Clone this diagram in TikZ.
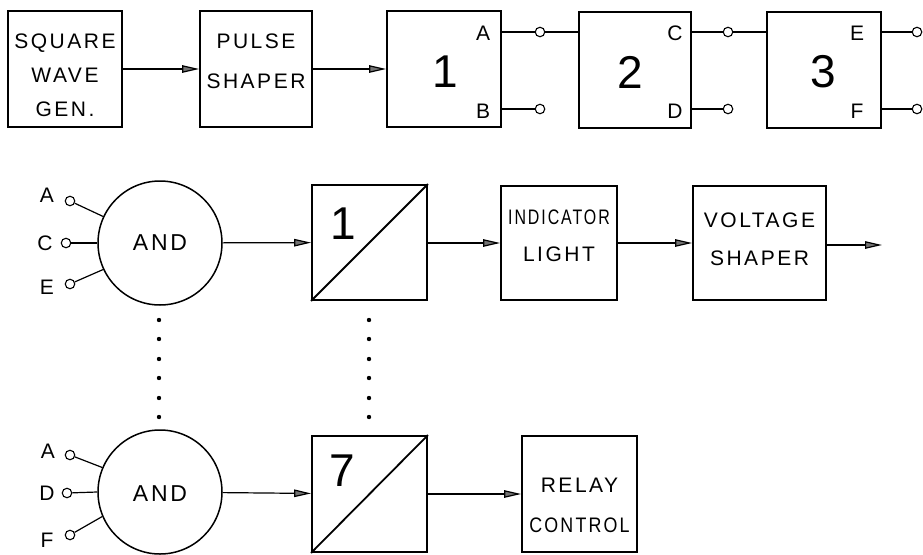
\documentclass[tikz,border=0pt]{standalone}
\usepackage{fontspec}
\setmainfont{Liberation Sans}
\newfontfamily\stencil{Liberation Sans}[LetterSpace=12]
\usetikzlibrary{arrows.meta, positioning}

\begin{document}
\begin{tikzpicture}[x=1pt, y=-1pt,
    every node/.style={font=\stencil\fontsize{21}{38}\selectfont, align=center},
    blk/.style={draw, line width=1.8pt, minimum width=114pt, minimum height=116pt, inner sep=0pt},
    gate/.style={draw, circle, line width=1.5pt, minimum size=124pt, inner sep=0pt},
    term/.style={draw, circle, line width=1.1pt, minimum size=9.5pt, inner sep=0pt, fill=white},
    wire/.style={line width=1.2pt},
    feed/.style={wire, -{Triangle[length=17pt, width=7.5pt, fill=black!55]}},
    digit/.style={font=\fontsize{46}{46}\selectfont}]
    \useasboundingbox (0,0) rectangle (923,554);

    % counter chain
    \node[blk] (sqw) at (65,69) {};
    \node (sqwtxt) at (65,75) {SQUARE\\[-4pt]WAVE\\[-4pt]GEN.};
    \node[blk, minimum width=112pt] (pulse) at (256,69) {};
    \node (pulsetxt) at (256,61) {PULSE\\[2pt]SHAPER};
    \node[blk] (st1) at (444,69) {};
    \node[digit] (n1) at (445,72) {1};
    \node[blk, minimum width=112pt] (st2) at (635,70) {};
    \node[digit] (n2) at (630,72) {2};
    \node[blk] (st3) at (824,70) {};
    \node[digit] (n3) at (823,72) {3};

    \node (lA) at (483,33) {A};
    \node (lB) at (483,111) {B};
    \node (lC) at (675,33) {C};
    \node (lD) at (675,111) {D};
    \node (lE) at (857,33) {E};
    \node (lF) at (857,111) {F};

    \node[term] (tA) at (540,32) {};
    \node[term] (tB) at (540,109) {};
    \node[term] (tC) at (728,32) {};
    \node[term] (tD) at (728,109) {};
    \node[term] (tE) at (917,32) {};
    \node[term] (tF) at (917,109) {};

    \draw[feed] (sqw) -- (pulse);
    \draw[feed] (pulse) -- (st1);
    \draw[wire] (st1.east |- tA) -- (tA) -- (st2.west |- tA);
    \draw[wire] (st1.east |- tB) -- (tB);
    \draw[wire] (st2.east |- tC) -- (tC) -- (st3.west |- tC);
    \draw[wire] (st2.east |- tD) -- (tD);
    \draw[wire] (st3.east |- tE) -- (tE);
    \draw[wire] (st3.east |- tF) -- (tF);

    % first decoder line
    \node[gate] (and1) at (160,243) {};
    \node[font=\stencil\fontsize{23}{23}\selectfont] (and1txt) at (160,243) {AND};
    \node[term] (iA1) at (70,201) {};
    \node[term] (iC1) at (66,243) {};
    \node[term] (iE1) at (70,284) {};
    \node (jA1) at (47,195) {A};
    \node (jC1) at (45,243) {C};
    \node (jE1) at (47,287) {E};
    \draw[wire] (iA1) -- (and1.155);
    \draw[wire] (iC1) -- (and1.west);
    \draw[wire] (iE1) -- (and1.205);

    \node[blk, minimum width=115pt, minimum height=115pt] (div1) at (369.5,242.5) {};
    \draw[line width=1.8pt] (div1.south west) -- (div1.north east);
    \node[digit] (d1) at (343,224) {1};
    \node[blk, minimum width=116pt, minimum height=114pt] (ind) at (559,243) {};
    \node (indtxt) at (559,236) {\scalebox{0.76}[1]{INDICATOR}\\[-1pt]LIGHT};
    \node[blk, minimum width=133pt, minimum height=114pt] (vsh) at (759.5,243) {};
    \node (vshtxt) at (759.5,239) {VOLTAGE\\SHAPER};
    \coordinate (vout) at (882,245);

    \draw[feed] (and1) -- (div1);
    \draw[feed] (div1.east |- ind) -- (ind);
    \draw[feed] (ind) -- (vsh);
    \draw[feed] (vsh.east |- vout) -- (vout);

    \foreach \y in {320,339,359,378,398,417} {
        \fill (159,\y) circle (2.2pt);
        \fill (369,\y) circle (2.2pt);
    }

    % seventh decoder line
    \node[gate] (and7) at (160,492) {};
    \node[font=\stencil\fontsize{23}{23}\selectfont] (and7txt) at (160,494) {AND};
    \node[term] (iA7) at (70,455) {};
    \node[term] (iD7) at (67,493) {};
    \node[term] (iF7) at (70,535) {};
    \node (jA7) at (48,451) {A};
    \node (jD7) at (47,493) {D};
    \node (jF7) at (47,540) {F};
    \draw[wire] (iA7) -- (and7.157);
    \draw[wire] (iD7) -- (and7.west);
    \draw[wire] (iF7) -- (and7.203);

    \node[blk, minimum width=115pt] (div7) at (369.5,494) {};
    \draw[line width=1.8pt] (div7.south west) -- (div7.north east);
    \node[digit] (d7) at (342,471) {7};
    \node[blk, minimum width=115pt] (relay) at (579.5,494) {};
    \node (relaytxt) at (579.5,505) {RELAY\\[2pt]\scalebox{0.85}[1]{CONTROL}};

    \draw[feed] (and7) -- (div7);
    \draw[feed] (div7) -- (relay);
\end{tikzpicture}
\end{document}
